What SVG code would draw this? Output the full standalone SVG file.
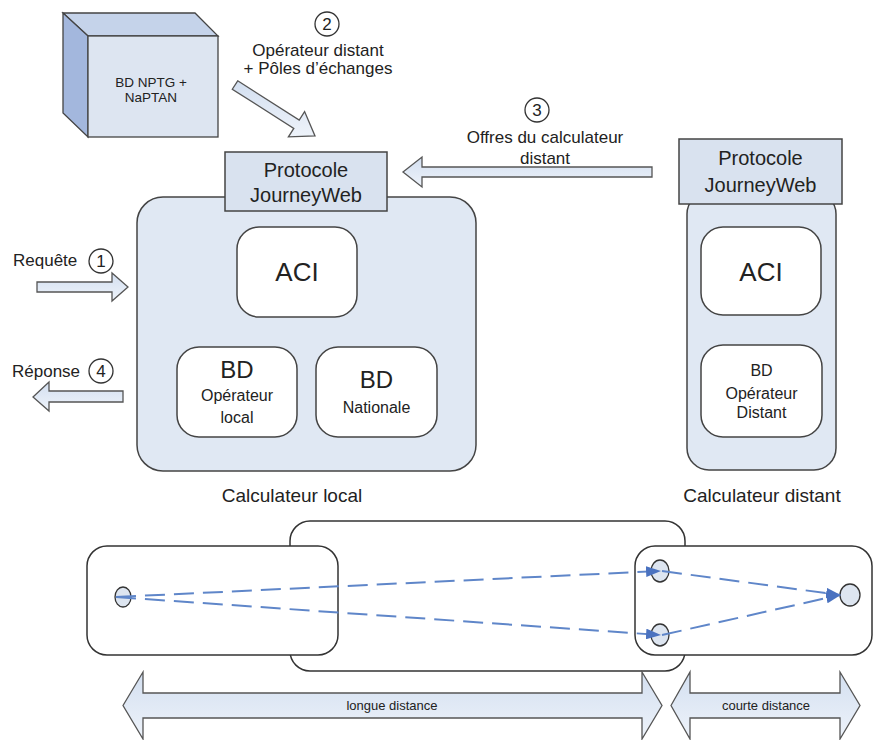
<svg xmlns="http://www.w3.org/2000/svg" width="874" height="740" viewBox="0 0 874 740">
<defs>
<linearGradient id="ag" x1="0" y1="0" x2="0" y2="1">
<stop offset="0" stop-color="#d3dff0"/>
<stop offset="1" stop-color="#eef3fa"/>
</linearGradient>
<marker id="tri" viewBox="0 0 14 10" refX="13" refY="5" markerWidth="7.5" markerHeight="5.4" orient="auto" markerUnits="strokeWidth">
<path d="M0,0 L14,5 L0,10 z" fill="#4a72c0"/>
</marker>
<style>
text{font-family:"Liberation Sans",Arial,sans-serif;fill:#222;text-anchor:middle}
.cont{fill:#e0e8f3;stroke:#444;stroke-width:1.5}
.proto{fill:#d9e2ef;stroke:#444;stroke-width:1.5}
.inner{fill:#fff;stroke:#444;stroke-width:1.5}
.arrow{fill:url(#ag);stroke:#555;stroke-width:1.3}
.num{fill:#fff;stroke:#333;stroke-width:1.3}
.box{fill:#fff;stroke:#333;stroke-width:1.5}
.pt{fill:#dde5f0;stroke:#333;stroke-width:1.3}
.dash{fill:none;stroke:#5f86c9;stroke-width:2;stroke-dasharray:20 9}
.lbl{font-size:17px}
</style>
</defs>
<rect width="874" height="740" fill="#fff"/>

<g id="cube">
<polygon points="63,13 195,13 218,36 88,36" fill="#c5d3ea" stroke="#444" stroke-width="1.3"/>
<polygon points="63,13 88,36 88,137 63,113" fill="#a3b7dd" stroke="#444" stroke-width="1.3"/>
<rect x="88" y="36" width="130" height="101" fill="#dde5f1" stroke="#444" stroke-width="1.3"/>
<text x="151" y="87" font-size="13.5">BD NPTG +</text>
<text x="151" y="102" font-size="13.5">NaPTAN</text>
</g>

<g id="calc-local">
<rect class="cont" x="137" y="197" width="339" height="274" rx="26"/>
<g id="aci-local">
<rect class="inner" x="237" y="227" width="120" height="90" rx="22"/>
<text x="297" y="281" font-size="26">ACI</text>
</g>
<g id="bd-local">
<rect class="inner" x="177" y="347" width="120" height="90" rx="22"/>
<text x="237" y="378" font-size="24">BD</text>
<text x="237" y="401" font-size="16">Opérateur</text>
<text x="237" y="423" font-size="16">local</text>
</g>
<g id="bd-nationale">
<rect class="inner" x="316" y="347" width="121" height="90" rx="22"/>
<text x="376.5" y="388" font-size="24">BD</text>
<text x="376.5" y="413" font-size="16">Nationale</text>
</g>
<text x="292" y="502" font-size="19">Calculateur local</text>
</g>
<g id="proto-local">
<rect class="proto" x="225" y="152" width="162" height="59"/>
<text x="306" y="177" font-size="20">Protocole</text>
<text x="306" y="202" font-size="20">JourneyWeb</text>
</g>

<g id="calc-distant">
<rect class="cont" x="687" y="192" width="149" height="278" rx="22"/>
<g id="aci-distant">
<rect class="inner" x="701" y="227" width="120" height="88" rx="22"/>
<text x="761" y="281" font-size="26">ACI</text>
</g>
<g id="bd-distant">
<rect class="inner" x="701" y="345" width="121" height="92" rx="22"/>
<text x="761.5" y="376" font-size="16">BD</text>
<text x="761.5" y="399" font-size="16">Opérateur</text>
<text x="761.5" y="418" font-size="16">Distant</text>
</g>
<text x="762" y="502" font-size="19">Calculateur distant</text>
</g>
<g id="proto-distant">
<rect class="proto" x="679" y="139" width="163" height="65"/>
<text x="760.5" y="165" font-size="20">Protocole</text>
<text x="760.5" y="192" font-size="20">JourneyWeb</text>
</g>

<g id="flows">
<polygon class="arrow" points="237.7,80.8 299.2,120 304.6,111.6 315,136 288.4,136.8 293.8,128.4 232.3,89.2"/>
<circle class="num" cx="327" cy="24" r="12"/>
<text x="327" y="30" font-size="17">2</text>
<text x="318" y="56" class="lbl">Opérateur distant</text>
<text x="318" y="74" class="lbl">+ Pôles d’échanges</text>

<polygon class="arrow" points="652,167 422,167 422,157 403,172 422,187 422,177 652,177"/>
<circle class="num" cx="537" cy="110" r="12"/>
<text x="537" y="116" font-size="17">3</text>
<text x="545" y="143" class="lbl">Offres du calculateur</text>
<text x="545" y="164" class="lbl">distant</text>

<polygon class="arrow" points="37,282 112,282 112,273 128,287 112,301 112,292 37,292"/>
<text x="13" y="266" class="lbl" style="text-anchor:start">Requête</text>
<circle class="num" cx="101" cy="261" r="12"/>
<text x="101" y="267" font-size="17">1</text>

<polygon class="arrow" points="123,391 49,391 49,382 33,397 49,411 49,402 123,402"/>
<text x="12" y="377" class="lbl" style="text-anchor:start">Réponse</text>
<circle class="num" cx="101" cy="371" r="12"/>
<text x="101" y="377" font-size="17">4</text>
</g>

<g id="zones">
<rect id="zone-mid" class="box" x="290" y="521" width="395" height="150" rx="20"/>
<rect id="zone-left" class="box" x="87" y="546" width="251" height="109" rx="20"/>
<rect id="zone-right" class="box" x="635" y="546" width="237" height="109" rx="20"/>
</g>
<g id="points">
<ellipse id="p-origin" class="pt" cx="123" cy="597" rx="8" ry="10"/>
<ellipse id="p-up" class="pt" cx="660" cy="571" rx="9" ry="11"/>
<ellipse id="p-down" class="pt" cx="660" cy="635" rx="9" ry="11"/>
<ellipse id="p-dest" class="pt" cx="850" cy="595" rx="10" ry="11"/>
</g>

<g id="connectors">
<line class="dash" x1="116" y1="597" x2="660" y2="571" marker-end="url(#tri)"/>
<line class="dash" x1="116" y1="597" x2="660" y2="635" marker-end="url(#tri)"/>
<line class="dash" x1="662" y1="571" x2="840" y2="595" marker-end="url(#tri)"/>
<line class="dash" x1="662" y1="635" x2="840" y2="595" marker-end="url(#tri)"/>
</g>

<g id="distances">
<polygon class="arrow" points="123,705.5 143,672 143,693 642,693 642,672 662,705.5 642,739 642,718 143,718 143,739"/>
<text x="392" y="710" font-size="13">longue distance</text>
<polygon class="arrow" points="671,705.5 690,672 690,693 840,693 840,672 860,705.5 840,739 840,718 690,718 690,739"/>
<text x="766" y="710" font-size="13">courte distance</text>
</g>
</svg>
